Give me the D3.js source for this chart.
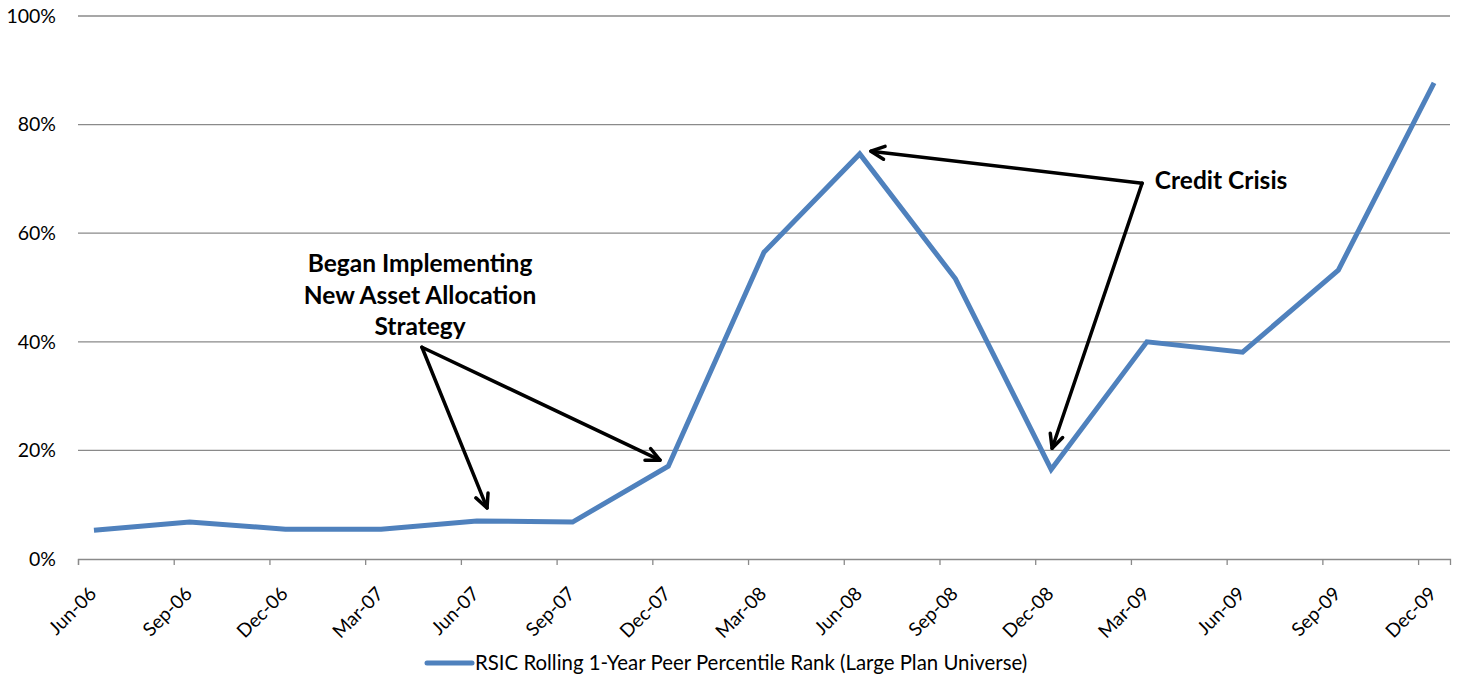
<!DOCTYPE html>
<html>
<head>
<meta charset="utf-8">
<script src="https://cdn.jsdelivr.net/npm/d3@7"></script>
<style>
  body { margin: 0; background: #fff; }
  text { font-family: Lato, "Open Sans", sans-serif; fill: #000; }
</style>
</head>
<body>
<div id="chart"></div>
<script>
// quarterly labels, one every three months from Jun-06
var quarters = ['Jun-06', 'Sep-06', 'Dec-06', 'Mar-07', 'Jun-07', 'Sep-07', 'Dec-07', 'Mar-08',
                'Jun-08', 'Sep-08', 'Dec-08', 'Mar-09', 'Jun-09', 'Sep-09', 'Dec-09']
var percentRank = [5.3, 6.8, 5.5, 5.5, 7.0, 6.8, 17.1, 56.5, 74.6, 51.6, 16.5, 40.0, 38.1, 53.2, 87.7]
var yTicks = [0, 20, 40, 60, 80, 100]
var seriesName = 'RSIC Rolling 1-Year Peer Percentile Rank (Large Plan Universe)'

// annotations in data units (month index from Jun-06, percent)
var notes = [
  { lines: ['Began Implementing', 'New Asset Allocation', 'Strategy'], tx: 10.72, ty: 52.8,
    from: [10.78, 39.0], to: [[12.82, 9.4], [18.24, 18.2]] },
  { lines: ['Credit Crisis'], tx: 33.75, ty: 68.2, anchor: 'start',
    from: [33.35, 69.2], to: [[24.85, 75.1], [30.53, 20.4]] }
]

var W = 1459, H = 679
var margin = { top: 16, left: 78, right: 9, bottom: 120 }
var width = W - margin.left - margin.right,
    height = H - margin.top - margin.bottom

var svg = d3.select('#chart').append('svg')
    .attr('width', W)
    .attr('height', H)

var g = svg.append('g')
    .attr('transform', 'translate(' + margin.left + ',' + margin.top + ')')

// date axis in months, each point sits in the middle of its month
var nMonths = quarters.length * 3 - 2
var x = d3.scaleLinear().domain([0, nMonths]).range([0, width])
var y = d3.scaleLinear().domain([0, 100]).range([height, 0])

// gridlines
g.selectAll('.grid')
    .data(yTicks.slice(1))
    .enter().append('line')
    .attr('x1', 0).attr('x2', width)
    .attr('y1', function(d) { return y(d) })
    .attr('y2', function(d) { return y(d) })
    .attr('stroke', '#8a8a8a')
    .attr('stroke-width', 1.3)

var yAxis = g.append('g')
    .call(d3.axisLeft(y).tickValues(yTicks).tickSize(0).tickPadding(22)
      .tickFormat(function(d) { return d + '%' }))
yAxis.select('.domain').remove()
yAxis.selectAll('text').attr('font-size', '19.5px').attr('fill', '#000')
    .attr('font-family', 'Lato, sans-serif')

var xAxis = g.append('g')
    .attr('transform', 'translate(0,' + height + ')')
    .call(d3.axisBottom(x).tickValues(d3.range(0, nMonths, 3)).tickSize(6)
      .tickFormat(function(d, i) { return quarters[i] }))
xAxis.select('.domain').attr('stroke', '#8a8a8a').attr('stroke-width', 1.3)
xAxis.selectAll('.tick line').attr('stroke', '#8a8a8a').attr('stroke-width', 1.3)
xAxis.selectAll('text')
    .attr('font-size', '19px')
    .attr('font-family', 'Lato, sans-serif')
    .attr('fill', '#000')
    .attr('text-anchor', 'end')
    .attr('dy', 0)
    .attr('y', 0)
    .attr('transform', 'translate(19,36) rotate(-45)')

var line = d3.line()
    .x(function(d, i) { return x(i * 3 + 0.5) })
    .y(function(d) { return y(d) })

g.append('path')
    .datum(percentRank)
    .attr('d', line)
    .attr('fill', 'none')
    .attr('stroke', '#4f81bd')
    .attr('stroke-width', 5)
    .attr('stroke-linejoin', 'miter')

// annotation arrows
function arrow(sel, a, b) {
  var x1 = x(a[0]), y1 = y(a[1]), x2 = x(b[0]), y2 = y(b[1])
  var ang = Math.atan2(y2 - y1, x2 - x1), len = 15, spread = 0.45
  sel.append('line')
      .attr('x1', x1).attr('y1', y1).attr('x2', x2).attr('y2', y2)
      .attr('stroke', '#000').attr('stroke-width', 3.5).attr('stroke-linecap', 'round')
  sel.append('path')
      .attr('d', 'M' + (x2 - len * Math.cos(ang - spread)) + ',' + (y2 - len * Math.sin(ang - spread)) +
                 'L' + x2 + ',' + y2 +
                 'L' + (x2 - len * Math.cos(ang + spread)) + ',' + (y2 - len * Math.sin(ang + spread)))
      .attr('fill', 'none').attr('stroke', '#000').attr('stroke-width', 3.5)
      .attr('stroke-linecap', 'round').attr('stroke-linejoin', 'round')
}

notes.forEach(function(n) {
  var ng = g.append('g')
  n.to.forEach(function(t) { arrow(ng, n.from, t) })
  var t = ng.append('text')
      .attr('x', x(n.tx))
      .attr('y', y(n.ty))
      .attr('text-anchor', n.anchor || 'middle')
      .attr('font-size', '24.5px')
      .attr('font-weight', 'bold')
  t.selectAll('tspan')
      .data(n.lines)
      .enter().append('tspan')
      .attr('x', x(n.tx))
      .attr('dy', function(d, i) { return i === 0 ? 0 : 31.5 })
      .text(function(d) { return d })
})

// legend
var legend = svg.append('g').attr('transform', 'translate(427,663)')
legend.append('line')
    .attr('x1', 0).attr('x2', 45).attr('y1', 0).attr('y2', 0)
    .attr('stroke', '#4f81bd').attr('stroke-width', 5).attr('stroke-linecap', 'round')
legend.append('text')
    .attr('x', 48).attr('y', 0).attr('dy', '0.35em')
    .attr('font-size', '20.4px')
    .text(seriesName)
</script>
</body>
</html>
